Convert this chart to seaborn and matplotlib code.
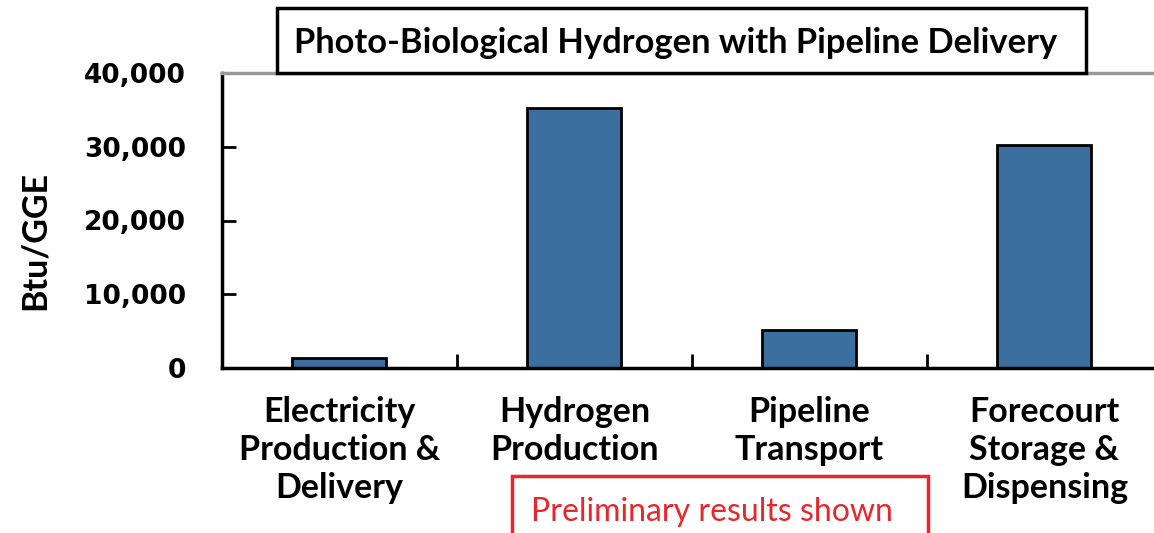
import seaborn as sns
import matplotlib.pyplot as plt
from matplotlib.patches import Rectangle

# data
categories = ['Electricity\nProduction &\nDelivery', 'Hydrogen\nProduction',
              'Pipeline\nTransport', 'Forecourt\nStorage &\nDispensing']
btu_per_gge = [1350, 35300, 5100, 30200]
y_ticks = [0, 10000, 20000, 30000, 40000]
y_tick_labels = ['0', '10,000', '20,000', '30,000', '40,000']

sns.set_style('white')
plt.rcParams['font.family'] = ['Lato', 'DejaVu Sans']
plt.rcParams['text.color'] = 'black'
plt.rcParams['xtick.color'] = 'black'
plt.rcParams['ytick.color'] = 'black'

fig = plt.figure(figsize=(11.54, 5.33), dpi=100)
ax = fig.add_axes([222 / 1154, 165 / 533, 932 / 1154, 295 / 533])

sns.barplot(x=categories, y=btu_per_gge, color='#3A6FA0', saturation=1,
            edgecolor='black', linewidth=2, width=0.4, ax=ax)

ax.set_xlim(-0.5, 3.466)
ax.set_ylim(0, 40000)
ax.set_yticks(y_ticks)
ax.set_yticklabels(y_tick_labels, fontsize=19, fontweight='bold', family='DejaVu Sans')
ax.tick_params(axis='y', direction='in', length=10, width=2, pad=26, left=True)
ax.set_xticks(range(len(categories)))
ax.set_xticklabels(categories, fontsize=24.5, fontweight='bold', linespacing=1.24)
ax.tick_params(axis='x', length=0, pad=20)
ax.set_xticks([0.5, 1.5, 2.5], minor=True)
ax.tick_params(axis='x', which='minor', direction='in', length=10, width=2, bottom=True)

for side in ['left', 'bottom']:
    ax.spines[side].set_color('black')
    ax.spines[side].set_linewidth(2.5)
ax.spines['top'].set_color('#999999')
ax.spines['top'].set_linewidth(2.5)
ax.spines['right'].set_visible(False)
ax.set_ylabel('')

fig.text(35 / 1154, 0.548, 'Btu/GGE', rotation=90, ha='center', va='center',
         fontsize=24.5, fontweight='bold')

# title box
fig.patches.append(Rectangle((277 / 1154, 1 - 73 / 533), 809 / 1154, 65 / 533,
                             transform=fig.transFigure, facecolor='white',
                             edgecolor='black', linewidth=2.5, zorder=5))
fig.text(676 / 1154, 1 - 43 / 533, 'Photo-Biological Hydrogen with Pipeline Delivery',
         ha='center', va='center', fontsize=24.8, fontweight='bold', zorder=6)

# red note box
fig.patches.append(Rectangle((512 / 1154, -0.05), 416 / 1154, 57 / 533 + 0.05,
                             transform=fig.transFigure, facecolor='none',
                             edgecolor='#E8262B', linewidth=2.5, zorder=5))
fig.text(712 / 1154, 1 - 512 / 533, 'Preliminary results shown', ha='center',
         va='center', fontsize=23, color='#E8262B')

fig.savefig('out.png', dpi=100)
